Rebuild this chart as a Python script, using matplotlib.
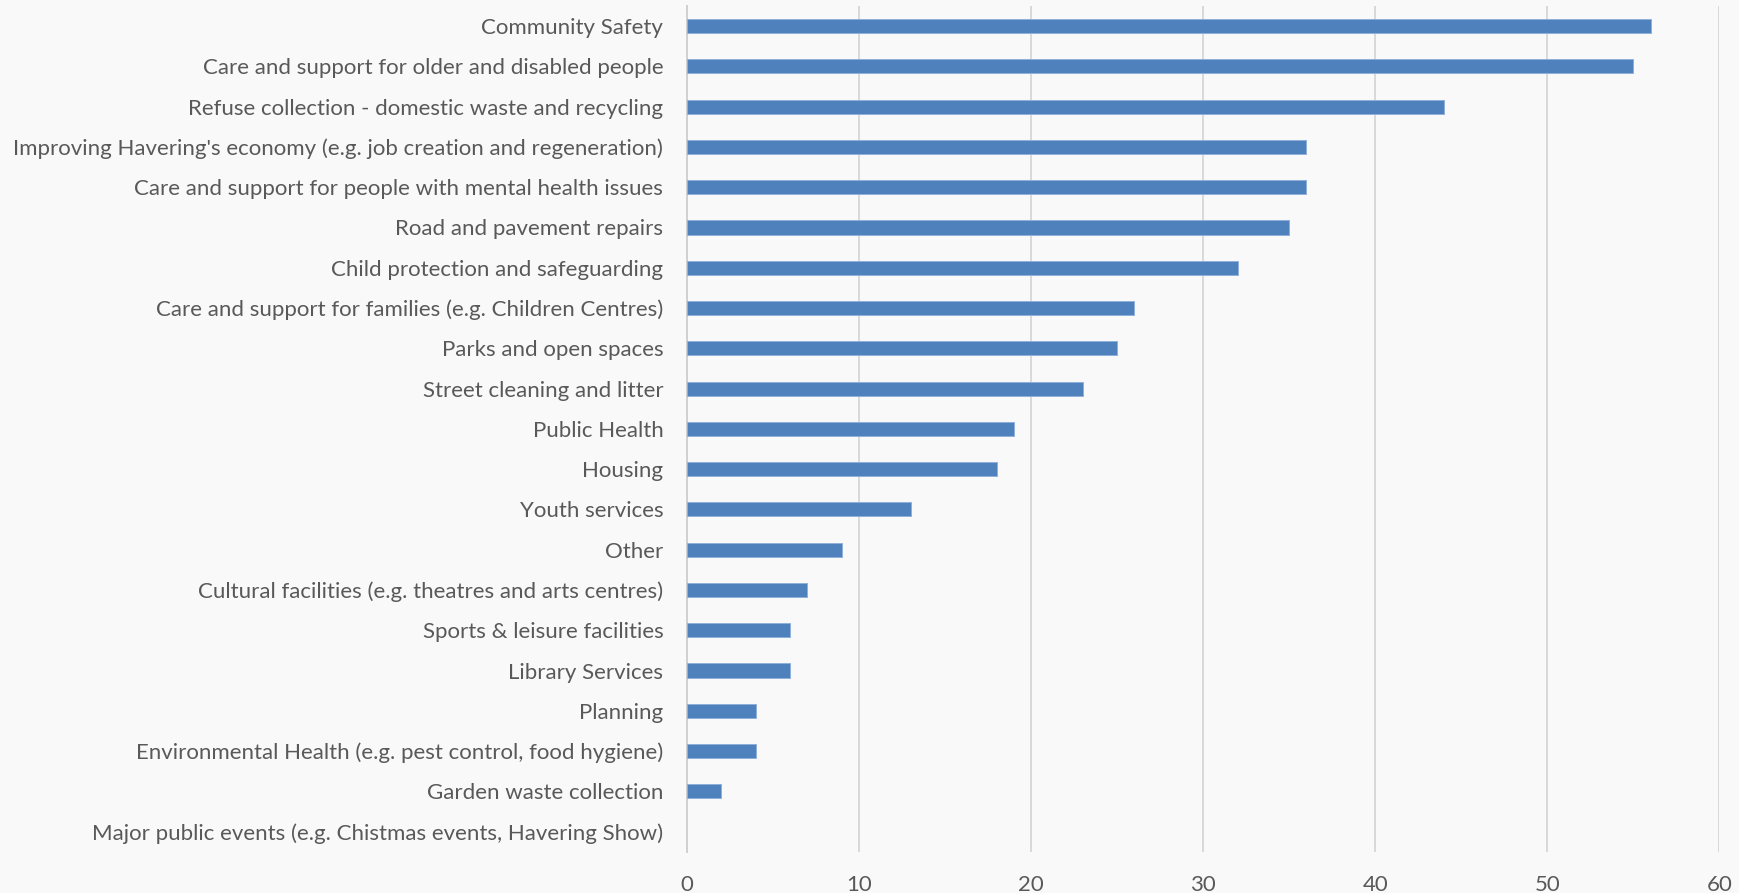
import matplotlib
matplotlib.use("Agg")
import matplotlib.pyplot as plt

# Survey categories (top to bottom) and number of responses
categories = [
    "Community Safety",
    "Care and support for older and disabled people",
    "Refuse collection - domestic waste and recycling",
    "Improving Havering's economy (e.g. job creation and regeneration)",
    "Care and support for people with mental health issues",
    "Road and pavement repairs",
    "Child protection and safeguarding",
    "Care and support for families (e.g. Children Centres)",
    "Parks and open spaces",
    "Street cleaning and litter",
    "Public Health",
    "Housing",
    "Youth services",
    "Other",
    "Cultural facilities (e.g. theatres and arts centres)",
    "Sports & leisure facilities",
    "Library Services",
    "Planning",
    "Environmental Health (e.g. pest control, food hygiene)",
    "Garden waste collection",
    "Major public events (e.g. Chistmas events, Havering Show)",
]
responses = [56, 55, 44, 36, 36, 35, 32, 26, 25, 23, 19, 18, 13, 9, 7, 6, 6, 4, 4, 2, 0]
x_ticks = [0, 10, 20, 30, 40, 50, 60]

BG = "#f9f9f9"
BAR = "#4f81bd"
TEXT = "#595959"
GRID = "#d9d9d9"

plt.rcParams["font.family"] = ["Lato", "DejaVu Sans"]

fig = plt.figure(figsize=(17.4, 8.93), dpi=100, facecolor=BG)
ax = fig.add_axes([0.3948, 0.0462, 0.5934, 0.9471], facecolor=BG)

ypos = list(range(len(categories)))
# no outline on empty bars so a zero value leaves nothing visible
edge_widths = [0.7 if v > 0 else 0 for v in responses]
ax.barh(ypos, responses, height=0.35, color=BAR, edgecolor="#8fb0dc",
        linewidth=edge_widths, zorder=3)

ax.set_ylim(len(categories) - 0.5, -0.5)
ax.set_xlim(0, 60)
ax.set_xticks(x_ticks)
ax.set_xticklabels([str(t) for t in x_ticks])
ax.set_yticks(ypos)
ax.set_yticklabels(categories)

ax.tick_params(axis="both", length=0, labelsize=16, colors=TEXT)
ax.tick_params(axis="x", pad=17)
ax.tick_params(axis="y", pad=17)

ax.grid(axis="x", color=GRID, linewidth=1.4, zorder=0)
for side in ("top", "right", "bottom"):
    ax.spines[side].set_visible(False)
ax.spines["left"].set_color("#d0d0d0")
ax.spines["left"].set_linewidth(1.4)

fig.savefig("out.png", dpi=100, facecolor=BG)
